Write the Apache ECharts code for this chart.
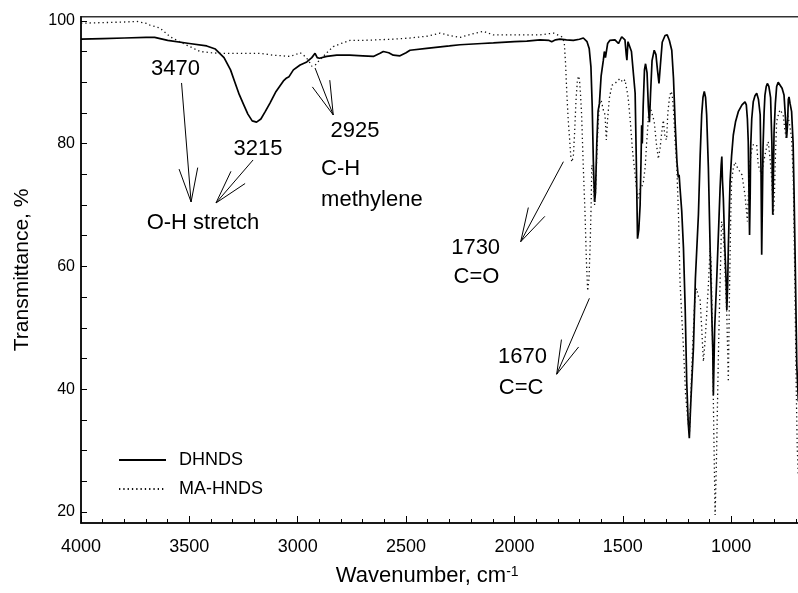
<!DOCTYPE html>
<html>
<head>
<meta charset="utf-8">
<script src="https://cdn.jsdelivr.net/npm/echarts@6/dist/echarts.min.js"></script>
<style>
  html, body { margin: 0; padding: 0; background: #fff; }
  #chart { width: 798px; height: 593px; }
</style>
</head>
<body>
<div id="chart"></div>
<script>
const FONT = '"Liberation Sans", Arial, Helvetica, sans-serif';

// FTIR spectra: [wavenumber (cm-1), transmittance (%)]
const dhndsSpectrum = [
  [4000,97.0],[3900,97.1],[3800,97.2],[3700,97.3],[3660,97.3],[3600,96.8],[3500,96.3],[3420,95.9],
  [3380,95.4],[3340,94.0],[3310,92.0],[3290,90.0],[3270,88.0],[3250,86.4],[3230,84.8],[3210,83.7],
  [3190,83.5],[3170,84.0],[3150,85.2],[3128,86.6],[3100,88.5],[3066,90.2],[3051,90.7],[3040,90.9],
  [3020,92.0],[2989,92.8],[2958,93.3],[2935,94.0],[2920,94.7],[2910,94.0],[2900,93.9],[2866,94.2],
  [2820,94.4],[2760,94.4],[2700,94.3],[2651,94.2],[2620,94.7],[2605,95.0],[2580,94.8],[2559,94.4],
  [2528,94.3],[2500,94.8],[2482,95.2],[2405,95.5],[2300,95.9],[2251,96.1],[2150,96.3],[2097,96.4],
  [2000,96.6],[1943,96.7],[1882,96.9],[1840,96.8],[1828,96.6],[1820,96.3],[1810,96.9],[1790,97.0],
  [1760,96.9],[1728,96.8],[1700,97.0],[1682,97.2],[1665,96.6],[1655,95.5],[1647,92.5],[1641,86.0],
  [1636,77.3],[1630,70.5],[1626,72.0],[1620,80.0],[1614,85.3],[1608,86.5],[1600,91.0],[1596,92.0],
  [1590,93.5],[1585,95.0],[1580,94.0],[1570,96.3],[1560,96.8],[1536,96.9],[1520,96.3],[1505,97.4],
  [1490,96.9],[1484,94.5],[1481,93.6],[1476,96.6],[1468,96.6],[1460,95.0],[1450,91.0],[1443,88.2],
  [1438,78.0],[1432,64.5],[1426,66.0],[1420,70.0],[1416,77.0],[1413,83.0],[1410,80.0],[1406,86.0],
  [1400,92.0],[1395,93.0],[1388,91.5],[1382,86.0],[1377,83.5],[1372,88.0],[1365,93.5],[1355,95.2],
  [1347,94.5],[1340,92.0],[1333,89.8],[1326,93.0],[1318,96.5],[1305,97.6],[1295,97.7],[1285,96.8],
  [1274,95.2],[1266,90.6],[1258,83.0],[1250,77.0],[1244,74.5],[1240,74.9],[1236,72.8],[1228,69.0],
  [1220,63.0],[1212,53.0],[1205,41.2],[1198,34.5],[1193,32.0],[1186,38.0],[1174,46.7],[1165,58.0],
  [1151,68.4],[1143,78.0],[1136,84.7],[1130,87.5],[1124,88.5],[1118,87.5],[1113,84.7],[1105,76.0],
  [1097,63.0],[1090,53.0],[1085,46.7],[1082,39.0],[1076,50.0],[1067,57.5],[1058,66.0],[1051,72.7],
  [1046,76.5],[1043,77.9],[1040,74.0],[1036,71.1],[1030,64.0],[1023,57.5],[1020,52.9],[1016,57.0],
  [1013,63.0],[1008,70.0],[1005,73.8],[998,78.0],[990,81.4],[980,83.5],[967,85.2],[950,86.3],
  [936,86.8],[930,86.3],[925,84.0],[921,80.3],[917,70.0],[915,65.1],[912,72.0],[910,79.2],
  [905,84.0],[898,86.8],[890,87.8],[882,88.2],[874,87.2],[866,84.7],[862,75.0],[859,61.9],
  [856,70.0],[853,79.2],[848,85.0],[844,87.9],[838,89.3],[833,89.8],[826,89.3],[818,87.5],
  [812,80.0],[808,68.4],[805,75.0],[802,81.9],[796,86.5],[790,89.3],[783,90.0],[774,90.1],
  [765,89.0],[756,87.9],[749,84.0],[744,80.9],[740,83.0],[736,87.2],[733,87.6],[728,86.5],
  [721,85.2],[714,80.0],[710,72.7],[704,60.0],[697,43.9],[690,38.0]
];

const maHndsSpectrum = [
  [4000,99.6],[3900,99.7],[3800,99.8],[3743,99.9],[3700,99.6],[3682,99.3],[3635,98.8],[3589,97.4],
  [3528,96.3],[3480,95.5],[3451,95.0],[3400,94.8],[3359,94.7],[3250,94.7],[3174,94.7],[3113,94.4],
  [3036,94.2],[3010,94.5],[2989,94.8],[2970,94.3],[2951,93.6],[2935,92.6],[2928,92.4],[2915,92.9],
  [2900,93.6],[2882,94.2],[2860,95.0],[2836,95.8],[2800,96.3],[2759,96.8],[2700,96.8],[2636,96.9],
  [2560,97.0],[2482,97.2],[2400,97.5],[2343,98.0],[2300,97.6],[2251,97.3],[2200,97.8],[2144,98.3],
  [2097,97.7],[2000,97.7],[1943,97.7],[1882,97.7],[1820,98.0],[1782,97.4],[1770,96.5],[1764,93.0],
  [1758,88.0],[1752,84.0],[1746,81.0],[1740,78.0],[1735,77.0],[1728,78.0],[1722,82.0],[1716,87.0],
  [1710,90.0],[1705,91.0],[1700,90.5],[1695,88.0],[1690,84.7],[1682,76.0],[1674,68.4],[1668,61.0],
  [1662,56.0],[1656,58.0],[1651,63.0],[1646,70.0],[1643,76.5],[1638,76.0],[1634,73.0],[1630,70.0],
  [1626,72.0],[1620,78.0],[1614,83.0],[1608,86.5],[1600,87.1],[1590,85.5],[1582,84.7],[1576,80.6],
  [1570,84.0],[1562,87.4],[1550,89.5],[1536,89.8],[1513,90.6],[1500,90.0],[1490,90.4],[1480,88.5],
  [1475,87.4],[1465,83.5],[1456,79.2],[1448,76.5],[1443,74.9],[1435,72.0],[1428,71.1],[1420,72.5],
  [1412,73.0],[1405,73.8],[1397,76.0],[1390,80.0],[1381,84.7],[1370,85.5],[1366,85.2],[1355,83.6],
  [1345,80.0],[1338,78.1],[1336,77.5],[1328,79.2],[1320,81.9],[1313,83.8],[1305,81.0],[1298,80.6],
  [1292,85.0],[1285,87.4],[1278,88.5],[1272,88.0],[1266,85.5],[1258,80.0],[1251,76.5],[1243,68.4],
  [1236,57.5],[1228,52.0],[1220,46.7],[1210,39.0],[1200,35.0],[1192,33.1],[1185,40.0],[1178,46.7],
  [1170,53.0],[1165,55.5],[1160,56.4],[1150,55.0],[1143,54.5],[1136,50.0],[1128,44.5],[1120,48.0],
  [1113,52.1],[1105,57.0],[1097,63.0],[1092,60.0],[1086,48.0],[1080,33.0],[1074,19.5],[1068,28.0],
  [1064,35.8],[1058,47.0],[1051,57.5],[1044,67.3],[1038,66.0],[1032,63.0],[1026,57.0],[1020,52.1],
  [1013,41.2],[1008,55.0],[1002,68.0],[998,73.8],[990,76.0],[982,77.0],[970,76.0],[950,74.9],
  [936,71.6],[925,67.3],[920,72.0],[915,76.5],[905,79.0],[898,79.8],[890,79.5],[882,79.8],
  [875,76.5],[859,74.9],[850,77.0],[844,78.1],[836,79.5],[829,80.3],[820,77.5],[812,73.8],
  [805,68.4],[800,72.0],[797,76.5],[790,83.6],[780,85.0],[774,85.5],[760,84.7],[753,82.5],
  [746,80.9],[739,84.7],[730,83.0],[721,81.0],[713,73.8],[706,57.5],[700,41.2],[695,30.4],[690,26.0]
];

const seriesNames = ['DHNDS', 'MA-HNDS'];
const yLabelValues = [20, 40, 60, 80, 100];
const yTickValues = [20, 25, 30, 35, 40, 45, 50, 55, 60, 65, 70, 75, 80, 85, 90, 95, 100];

// Band annotations, placed in data space [wavenumber, transmittance]
const bandLabels = [
  { text: '3470', at: [3564, 92.2], align: 'center' },
  { text: '3215', at: [3183, 79.1], align: 'center' },
  { text: '2925', at: [2736, 82.0], align: 'center' },
  { text: 'C-H', at: [2892, 75.9], align: 'left' },
  { text: 'methylene', at: [2892, 70.8], align: 'left' },
  { text: 'O-H stretch', at: [3697, 67.15], align: 'left' },
  { text: '1730', at: [2179, 62.95], align: 'center' },
  { text: 'C=O', at: [2175, 58.24], align: 'center' },
  { text: '1670', at: [1963, 45.3], align: 'center' },
  { text: 'C=C', at: [1969, 40.2], align: 'center' }
];
const bandArrows = [
  { from: [3536, 89.87], to: [3492, 70.49] },
  { from: [3206, 77.33], to: [3377, 70.33] },
  { from: [2920, 92.31], to: [2836, 84.66] },
  { from: [1774, 77.05], to: [1971, 64.02] },
  { from: [1654, 54.8], to: [1805, 42.43] }
];

const chart = echarts.init(document.getElementById('chart'), null, { renderer: 'canvas' });

const option = {
  animation: false,
  backgroundColor: '#fff',
  textStyle: { fontFamily: FONT, color: '#000' },
  grid: {
    left: 81, right: -41.5, top: 16.8, bottom: 70,
    show: true, borderColor: '#333', borderWidth: 1.5, backgroundColor: 'transparent',
    containLabel: false, outerBoundsMode: 'none'
  },
  legend: {
    orient: 'vertical', left: 118, top: 451, padding: 0,
    itemWidth: 47, itemHeight: 14, itemGap: 11,
    itemStyle: { opacity: 0 },
    textStyle: { fontFamily: FONT, fontSize: 18, color: '#000', padding: [0, 0, 0, 8] },
    data: seriesNames
  },
  xAxis: {
    type: 'value', min: 500, max: 4000, interval: 500, inverse: true,
    axisLine: { show: true, lineStyle: { color: '#000', width: 1.5 } },
    axisTick: { show: true, inside: true, length: 7, lineStyle: { color: '#000', width: 1 } },
    minorTick: { show: true, splitNumber: 5, length: 4, lineStyle: { color: '#000', width: 1 } },
    axisLabel: { fontFamily: FONT, fontSize: 18, color: '#000', margin: 15, formatter: v => String(v) },
    splitLine: { show: false },
    name: 'Wavenumber, cm{sup|-1}',
    nameLocation: 'middle', nameGap: 42,
    nameTextStyle: {
      fontFamily: FONT, fontSize: 22, color: '#000', padding: [0, 66, 0, 0],
      rich: { sup: { fontFamily: FONT, fontSize: 14, color: '#000', verticalAlign: 'top', padding: [0, 0, 4, 0] } }
    }
  },
  yAxis: {
    type: 'value', min: 18.2, max: 100.65,
    axisLine: { show: true, lineStyle: { color: '#000', width: 1.5 } },
    axisTick: { show: true, inside: true, length: 6, customValues: yTickValues, lineStyle: { color: '#000', width: 1 } },
    axisLabel: { fontFamily: FONT, fontSize: 16, color: '#000', margin: 6, customValues: yLabelValues },
    splitLine: { show: false },
    name: 'Transmittance, %',
    nameLocation: 'middle', nameGap: 48,
    nameTextStyle: { fontFamily: FONT, fontSize: 21, color: '#000' }
  },
  series: [
    {
      name: seriesNames[0], type: 'line', data: dhndsSpectrum,
      symbol: 'none', showSymbol: false, smooth: false, clip: true,
      lineStyle: { color: '#000', width: 1.7, type: 'solid' },
      itemStyle: { color: '#000' }
    },
    {
      name: seriesNames[1], type: 'line', data: maHndsSpectrum,
      symbol: 'none', showSymbol: false, smooth: false, clip: true,
      lineStyle: { color: '#111', width: 1.3, type: [1.3, 3], cap: 'butt' },
      itemStyle: { color: '#111' }
    }
  ]
};
chart.setOption(option);

// Annotation text and arrows, positioned through the axes
const toPx = p => chart.convertToPixel({ xAxisIndex: 0, yAxisIndex: 0 }, p);
const graphics = [];
bandLabels.forEach(l => {
  const p = toPx(l.at);
  graphics.push({
    type: 'text', x: p[0], y: p[1], silent: true,
    style: { text: l.text, font: '22px ' + FONT, fill: '#000', align: l.align, verticalAlign: 'middle' }
  });
});
const HEAD_LEN = 35, HEAD_ANGLE = 15.5 * Math.PI / 180;
bandArrows.forEach(a => {
  const t = toPx(a.from), h = toPx(a.to);
  const dx = t[0] - h[0], dy = t[1] - h[1];
  const len = Math.hypot(dx, dy);
  const ux = dx / len, uy = dy / len;
  const wing = s => [
    h[0] + HEAD_LEN * (ux * Math.cos(s) - uy * Math.sin(s)),
    h[1] + HEAD_LEN * (ux * Math.sin(s) + uy * Math.cos(s))
  ];
  graphics.push({
    type: 'polyline', silent: true, shape: { points: [t, h] },
    style: { stroke: '#000', lineWidth: 1, fill: null }
  });
  graphics.push({
    type: 'polyline', silent: true, shape: { points: [wing(HEAD_ANGLE), h, wing(-HEAD_ANGLE)] },
    style: { stroke: '#000', lineWidth: 1, fill: null }
  });
});
chart.setOption({ graphic: graphics });
</script>
</body>
</html>
